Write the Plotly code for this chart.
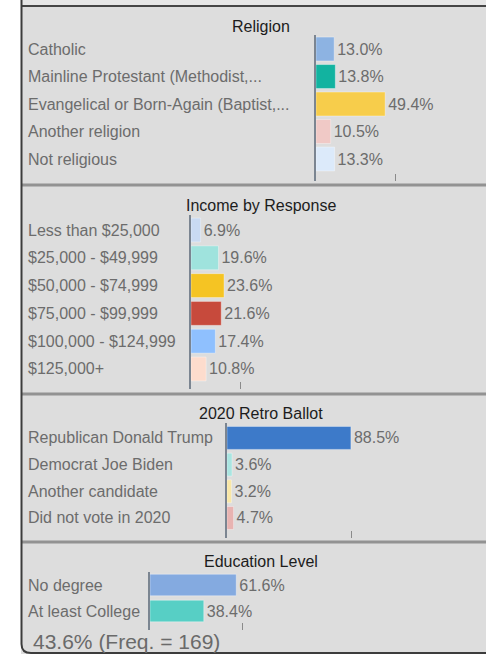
import plotly.graph_objects as go

W, H = 486, 654

# ---------------- data ----------------
religion_labels = ["Catholic", "Mainline Protestant (Methodist,...",
                   "Evangelical or Born-Again (Baptist,...", "Another religion", "Not religious"]
religion_values = [13.0, 13.8, 49.4, 10.5, 13.3]
religion_colors = ["#8db3e2", "#12b3a0", "#f7cd4b", "#f0c9c6", "#dceafa"]

income_labels = ["Less than $25,000", "$25,000 - $49,999", "$50,000 - $74,999",
                 "$75,000 - $99,999", "$100,000 - $124,999", "$125,000+"]
income_values = [6.9, 19.6, 23.6, 21.6, 17.4, 10.8]
income_colors = ["#c9daf2", "#9fe3dd", "#f5c423", "#c74a3c", "#8fc0fe", "#fddccd"]

ballot_labels = ["Republican Donald Trump", "Democrat Joe Biden", "Another candidate", "Did not vote in 2020"]
ballot_values = [88.5, 3.6, 3.2, 4.7]
ballot_colors = ["#3d7ac9", "#a9e5e1", "#f9e7a6", "#e8b3b1"]

education_labels = ["No degree", "At least College"]
education_values = [61.6, 38.4]
education_colors = ["#84aae0", "#57cfc5"]

panel_titles = ["Religion", "Income by Response", "2020 Retro Ballot", "Education Level"]
axis_ticks = [57, 35, 89, 66]
footer_text = "43.6% (Freq. = 169)"

# ---------------- layout helpers ----------------
FONT = "Liberation Sans, Arial, sans-serif"
LABEL_COLOR = "#6c6c6c"


def px(x):
    return x / W


def py(y):
    return 1 - y / H


panels = [
    dict(labels=religion_labels, values=religion_values, colors=religion_colors,
         x0=316, top=35, bottom=181, rng=[4.8, -0.51], bw=0.87, title_y=26),
    dict(labels=income_labels, values=income_values, colors=income_colors,
         x0=191, top=215, bottom=389, rng=[5.72, -0.54], bw=0.86, title_y=205),
    dict(labels=ballot_labels, values=ballot_values, colors=ballot_colors,
         x0=227, top=423, bottom=538, rng=[3.75, -0.56], bw=0.86, title_y=413),
    dict(labels=education_labels, values=education_values, colors=education_colors,
         x0=150, top=572, bottom=630, rng=[1.73, -0.5], bw=0.83, title_y=561),
]

fig = go.Figure()
annotations = []
layout_axes = {}

for i, (p, title, tick) in enumerate(zip(panels, panel_titles, axis_ticks), start=1):
    xa = "x" if i == 1 else f"x{i}"
    ya = "y" if i == 1 else f"y{i}"
    fig.add_trace(go.Bar(
        x=p["values"], y=p["labels"], orientation="h",
        marker=dict(color=p["colors"], line=dict(color="rgba(255,255,255,0.35)", width=1)),
        width=p["bw"],
        text=[f"{v:.1f}%" for v in p["values"]],
        textposition="outside", cliponaxis=False, constraintext="none",
        textfont=dict(family=FONT, size=16, color=LABEL_COLOR),
        hoverinfo="skip", showlegend=False,
        xaxis=xa, yaxis=ya,
    ))
    layout_axes[f"xaxis{'' if i == 1 else i}"] = dict(
        domain=[px(p["x0"]), px(p["x0"] + 140)], range=[0, 100], anchor=ya,
        showgrid=False, zeroline=False, showline=False, showticklabels=False,
        ticks="inside", ticklen=7, tickwidth=1, tickcolor="#8a8a8a",
        tickmode="array", tickvals=[tick], fixedrange=True,
    )
    layout_axes[f"yaxis{'' if i == 1 else i}"] = dict(
        domain=[py(p["bottom"]), py(p["top"])], anchor=xa,
        type="category", categoryorder="array", categoryarray=p["labels"],
        range=p["rng"], showgrid=False, zeroline=False,
        showline=True, linecolor="#7b8591", linewidth=2,
        showticklabels=False, ticks="", fixedrange=True,
    )
    for lab in p["labels"]:
        annotations.append(dict(
            xref="paper", x=px(26), yref=ya, y=lab, text=lab,
            xanchor="left", yanchor="middle", showarrow=False,
            font=dict(family=FONT, size=16, color=LABEL_COLOR),
        ))
    annotations.append(dict(
        xref="paper", x=px(261), yref="paper", y=py(p["title_y"]), text=title,
        xanchor="center", yanchor="middle", showarrow=False,
        font=dict(family=FONT, size=16, color="#1c1c1c"),
    ))

annotations.append(dict(
    xref="paper", x=px(31), yref="paper", y=py(641), text=footer_text,
    xanchor="left", yanchor="middle", showarrow=False,
    font=dict(family=FONT, size=21, color="#6a6a6a"),
))

shapes = [
    # gray panel background
    dict(type="rect", xref="paper", yref="paper", x0=px(21), x1=1, y0=0, y1=1,
         fillcolor="#dddddd", line=dict(width=0), layer="below"),
    dict(type="rect", xref="paper", yref="paper", x0=px(21), x1=1, y0=py(5), y1=1,
         fillcolor="#e6e6e6", line=dict(width=0), layer="below"),
    # top dark border
    dict(type="line", xref="paper", yref="paper", x0=px(21), x1=1, y0=py(6), y1=py(6),
         line=dict(color="#454545", width=2)),
]
# section separators
for sy in [185, 394, 542]:
    shapes.append(dict(type="line", xref="paper", yref="paper", x0=px(22), x1=1,
                       y0=py(sy), y1=py(sy), line=dict(color="#929292", width=3)))
# left border with rounded bottom corner
path = (f"M {px(21.5)},{py(0)} L {px(21.5)},{py(644)} "
        f"Q {px(21.5)},{py(653)} {px(31)},{py(653)} L 1,{py(653)}")
shapes.append(dict(type="path", xref="paper", yref="paper", path=path,
                   line=dict(color="#3c3c3c", width=2)))

fig.update_layout(
    width=W, height=H, margin=dict(l=0, r=0, t=0, b=0),
    paper_bgcolor="white", plot_bgcolor="rgba(0,0,0,0)",
    font=dict(family=FONT),
    bargap=0.1, annotations=annotations, shapes=shapes,
    **layout_axes,
)

fig.write_html(
    "out.html",
    config={"displayModeBar": False, "staticPlot": True},
    post_script="document.body.style.margin='0';document.body.style.overflow='hidden';",
)
